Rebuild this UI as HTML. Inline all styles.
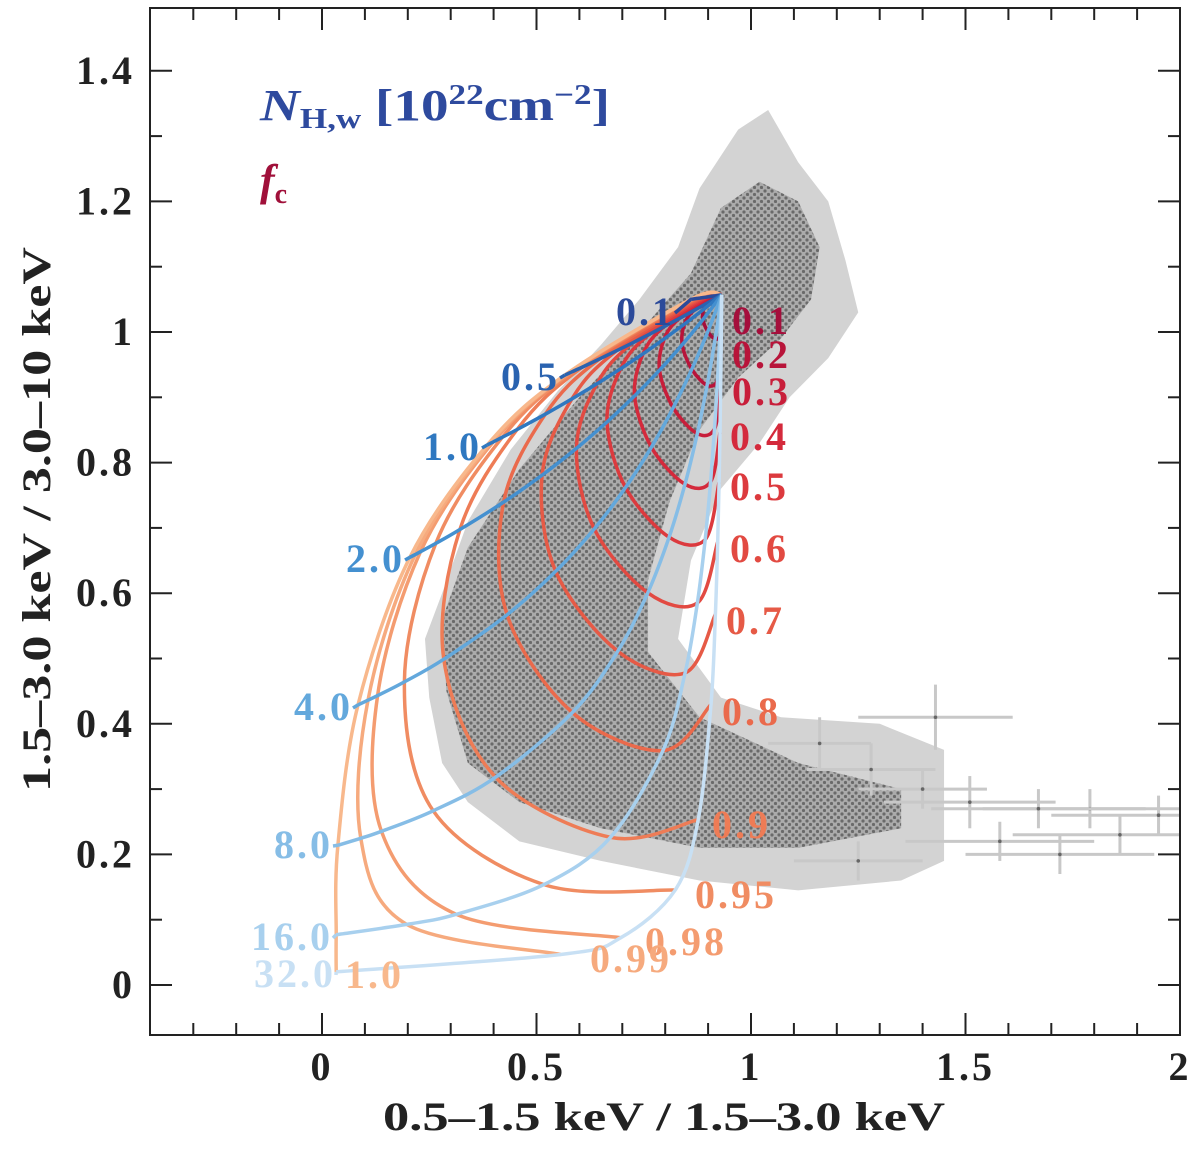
<!DOCTYPE html>
<html><head><meta charset="utf-8"><style>
html,body{margin:0;padding:0;background:#fff}
svg{display:block}
text{font-family:"Liberation Serif","DejaVu Serif",serif;font-weight:bold}
</style></head><body>
<svg id="chart" width="1200" height="1149" viewBox="0 0 1200 1149" xmlns="http://www.w3.org/2000/svg">
<defs>
<pattern id="dots" width="7" height="7" patternUnits="userSpaceOnUse">
<rect width="7" height="7" fill="#ababab"/>
<circle cx="2" cy="2" r="1.6" fill="#6a6a6a"/><circle cx="5.5" cy="5.5" r="1.6" fill="#6a6a6a"/>
</pattern>
<clipPath id="plotclip"><rect x="150" y="8" width="1030" height="1027"/></clipPath>
</defs>
<g id="cloud" clip-path="url(#plotclip)"></g>
<g id="grid" clip-path="url(#plotclip)"></g>
<g id="axes"></g>
<g id="labels"></g>
<text x="260" y="120" font-size="44" fill="#2e4a9e" textLength="350" lengthAdjust="spacingAndGlyphs"><tspan font-style="italic">N</tspan><tspan font-size="28" dy="8">H,w</tspan><tspan dy="-8"> [10</tspan><tspan font-size="28" dy="-16">22</tspan><tspan dy="16">cm</tspan><tspan font-size="28" dy="-16">−2</tspan><tspan dy="16">]</tspan></text>
<text x="260" y="195" font-size="44" fill="#a0103a"><tspan font-style="italic">f</tspan><tspan font-size="28" dy="8">c</tspan></text>
<text x="383" y="1130" font-size="40" fill="#222" textLength="562" lengthAdjust="spacingAndGlyphs">0.5–1.5 keV  /  1.5–3.0 keV</text>
<text transform="translate(50,792) rotate(-90)" font-size="40" fill="#222" textLength="545" lengthAdjust="spacingAndGlyphs">1.5–3.0 keV  /  3.0–10 keV</text>
</svg>
<script>
// ---- data ----
const xTicks=[0,0.5,1,1.5,2];
const xTickLabels=["0","0.5","1","1.5","2"];
const yTicks=[0,0.2,0.4,0.6,0.8,1,1.2,1.4];
const yTickLabels=["0","0.2","0.4","0.6","0.8","1","1.2","1.4"];
const nhValues=[0.1,0.5,1,2,4,8,16,32];
const fcValues=[0.1,0.2,0.3,0.4,0.5,0.6,0.7,0.8,0.9,0.95,0.98,0.99,1.0];
const convX=0.932, convY=1.057;
const envX=[0.86,0.566,0.385,0.205,0.084,0.037,0.033,0.033];
const envY=[1.05,0.934,0.827,0.655,0.429,0.214,0.077,0.02];
const hardTrans=[0.997,0.985,0.97,0.94,0.887,0.787,0.619,0.383];
const cloudOuterX=[0.25,0.24,0.28,0.34,0.44,0.55,0.65,0.74,0.83,0.88,0.97,1.04,1.11,1.18,1.22,1.25,1.18,1.09,1.02,0.93,0.86,0.83,0.93,1.07,1.30,1.45,1.45,1.35,1.11,0.88,0.65,0.46,0.34,0.28];
const cloudOuterY=[0.44,0.53,0.60,0.71,0.82,0.91,0.98,1.05,1.13,1.22,1.31,1.34,1.26,1.20,1.11,1.03,0.96,0.90,0.83,0.76,0.65,0.53,0.44,0.41,0.40,0.36,0.19,0.16,0.145,0.16,0.19,0.22,0.28,0.34];
const cloudInnerX=[0.29,0.28,0.34,0.46,0.60,0.74,0.86,0.93,1.02,1.11,1.16,1.14,1.07,0.97,0.88,0.81,0.76,0.76,0.88,1.11,1.35,1.35,1.11,0.88,0.65,0.46,0.34];
const cloudInnerY=[0.45,0.56,0.67,0.79,0.90,1.00,1.09,1.19,1.23,1.20,1.13,1.05,0.99,0.93,0.85,0.74,0.62,0.51,0.41,0.34,0.30,0.24,0.21,0.21,0.24,0.28,0.34];
const tailX=[1.43,1.79,1.86,1.51,1.67,1.28,1.16,1.58,1.40,1.72,1.95,1.25];
const tailY=[0.41,0.27,0.23,0.28,0.27,0.33,0.37,0.22,0.30,0.20,0.26,0.19];
const tailXErr=[0.18,0.25,0.25,0.2,0.25,0.15,0.12,0.22,0.15,0.22,0.25,0.15];
const tailYErr=[0.05,0.03,0.03,0.04,0.03,0.04,0.04,0.03,0.03,0.03,0.03,0.03];
const fcColors=["#a50f3c","#b8143a","#c81e3a","#d42a3c","#dc3a3e","#e24a42","#e65a46","#ea6a4c","#ee7c56","#f08c62","#f49c70","#f6aa7e","#f8b88c"];
const nhColors=["#2b4a9a","#2a63b0","#2f78c0","#4490d0","#63a8dc","#86bde6","#a8d0ee","#c8e0f4"];
const fcLabels=["0.1","0.2","0.3","0.4","0.5","0.6","0.7","0.8","0.9","0.95","0.98","0.99","1.0"];
const fcLabelPos=[[732,334],[732,368],[732,405],[730,450],[730,500],[730,562],[726,634],[722,725],[712,838],[695,908],[645,955],[590,972],[345,988]];
const nhLabels=["0.1","0.5","1.0","2.0","4.0","8.0","16.0","32.0"];
const nhLabelPos=[[675,325],[560,390],[482,460],[405,572],[353,720],[333,858],[333,950],[336,987]];

const sx=v=>322+v*429, sy=v=>985-v*653;
const NS="http://www.w3.org/2000/svg";
function mk(tag,attrs,parent){const e=document.createElementNS(NS,tag);for(const k in attrs)e.setAttribute(k,attrs[k]);parent.appendChild(e);return e;}
function smooth(pts){let d=`M${pts[0][0].toFixed(1)},${pts[0][1].toFixed(1)}`;
 for(let i=0;i<pts.length-1;i++){const p0=pts[Math.max(0,i-1)],p1=pts[i],p2=pts[i+1],p3=pts[Math.min(pts.length-1,i+2)];
  const c1=[p1[0]+(p2[0]-p0[0])/6,p1[1]+(p2[1]-p0[1])/6],c2=[p2[0]-(p3[0]-p1[0])/6,p2[1]-(p3[1]-p1[1])/6];
  d+=`C${c1[0].toFixed(1)},${c1[1].toFixed(1)} ${c2[0].toFixed(1)},${c2[1].toFixed(1)} ${p2[0].toFixed(1)},${p2[1].toFixed(1)}`;}
 return d;}

// cloud
const cloud=document.getElementById('cloud');
let po=cloudOuterX.map((x,i)=>sx(x)+","+sy(cloudOuterY[i])).join(" ");
const outer=mk('polygon',{points:po,fill:"#d3d3d3"},cloud);


let pi=cloudInnerX.map((x,i)=>sx(x)+","+sy(cloudInnerY[i])).join(" ");
const inner=mk('polygon',{points:pi,fill:"url(#dots)"},cloud);


tailX.forEach((x,i)=>{const g=mk('g',{},cloud);
 
 
 mk('line',{x1:sx(x-tailXErr[i]),x2:sx(x+tailXErr[i]),y1:sy(tailY[i]),y2:sy(tailY[i]),stroke:"#c8c8c8","stroke-width":3},g);
 mk('line',{x1:sx(x),x2:sx(x),y1:sy(tailY[i]-tailYErr[i]),y2:sy(tailY[i]+tailYErr[i]),stroke:"#c8c8c8","stroke-width":3},g);
 mk('circle',{cx:sx(x),cy:sy(tailY[i]),r:1.8,fill:"#666"},g);});

// model grid
function gridPt(f,j){const tH=hardTrans[j];const tM=envY[j]*tH/convY;const tS=envX[j]*tM/convX;
 const S=convX*((1-f)+f*tS),M=(1-f)+f*tM,H=(1-f)+f*tH;const m=M*convY;
 return [sx(S/M),sy(m/H)];}
const grid=document.getElementById('grid');
fcValues.forEach((f,i)=>{const pts=[[sx(convX),sy(convY)]].concat(nhValues.map((n,j)=>gridPt(f,j)));
 const p=mk('path',{d:smooth(pts),fill:"none",stroke:fcColors[i],"stroke-width":3.5},grid);
 
 });
nhValues.forEach((n,j)=>{const pts=[[sx(convX),sy(convY)]].concat(fcValues.map(f=>gridPt(f,j)));
 const p=mk('path',{d:smooth(pts),fill:"none",stroke:nhColors[j],"stroke-width":3.5},grid);
 
 
 const pl=pts[pts.length-1],lp=nhLabelPos[j];
 const c=mk('line',{x1:lp[0],y1:lp[1]-12,x2:pl[0],y2:pl[1],stroke:nhColors[j],"stroke-width":3.5},grid);
 
 });

// labels
const lab=document.getElementById('labels');
fcLabels.forEach((t,i)=>{const e=mk('text',{x:fcLabelPos[i][0],y:fcLabelPos[i][1],"font-size":40,"letter-spacing":3,fill:fcColors[i]},lab);e.textContent=t;
 
 });
nhLabels.forEach((t,j)=>{const e=mk('text',{x:nhLabelPos[j][0],y:nhLabelPos[j][1],"font-size":40,"letter-spacing":3,fill:nhColors[j],"text-anchor":"end"},lab);e.textContent=t;
 
 });

// axes
const ax=document.getElementById('axes');
const frame=mk('rect',{x:150,y:8,width:1030,height:1027,fill:"none",stroke:"#222","stroke-width":2},ax);


for(let k=-3;k<=19;k++){const v=k/10,x=sx(v);if(x<151||x>1179)continue;const major=(k%5===0);const L=major?22:12;
 mk('line',{x1:x,x2:x,y1:1035,y2:1035-L,stroke:"#222","stroke-width":2},ax);
 mk('line',{x1:x,x2:x,y1:8,y2:8+L,stroke:"#222","stroke-width":2},ax);}
for(let k=0;k<=14;k++){const y=sy(k/10);const major=(k%2===0);const L=major?22:12;
 mk('line',{x1:150,x2:150+L,y1:y,y2:y,stroke:"#222","stroke-width":2},ax);
 mk('line',{x1:1180,x2:1180-L,y1:y,y2:y,stroke:"#222","stroke-width":2},ax);}
xTicks.forEach((v,i)=>{const e=mk('text',{x:sx(v),y:1080,"font-size":40,"letter-spacing":3,"text-anchor":"middle",fill:"#222"},ax);e.textContent=xTickLabels[i];
 
 });
yTicks.forEach((v,i)=>{const e=mk('text',{x:135,y:sy(v)+13,"font-size":40,"letter-spacing":3,"text-anchor":"end",fill:"#222"},ax);e.textContent=yTickLabels[i];
 
 });
</script>
</body></html>
